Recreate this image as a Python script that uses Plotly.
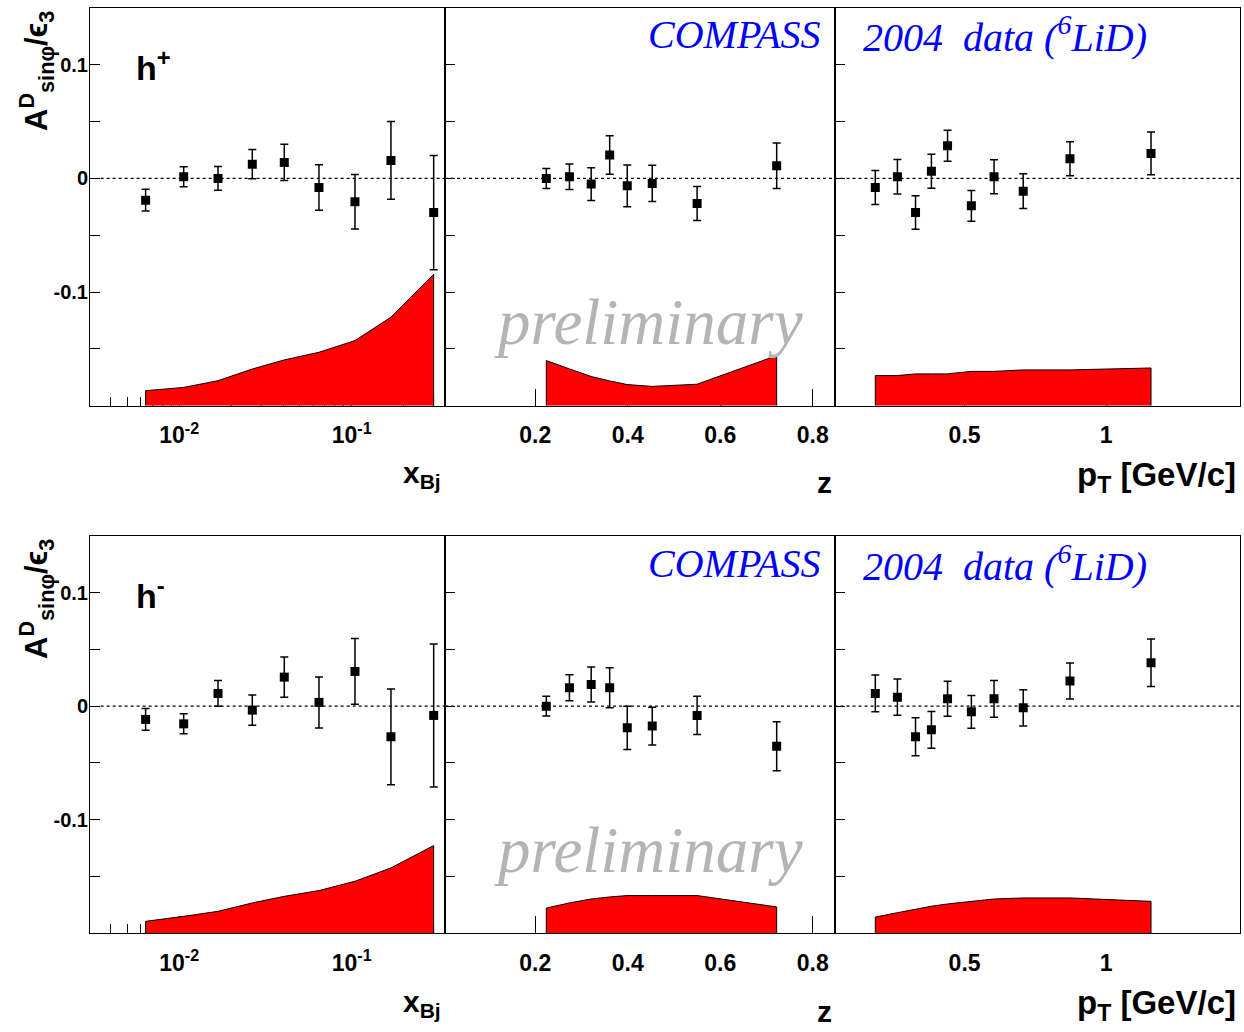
import plotly.graph_objects as go

# ---------------- data ----------------
xbj = [0.00639, 0.01062, 0.01679, 0.02654, 0.04067, 0.06462, 0.1045, 0.1689, 0.2988]
zval = [0.224, 0.274, 0.321, 0.361, 0.399, 0.453, 0.550, 0.722]
ptval = [0.185, 0.263, 0.327, 0.383, 0.440, 0.524, 0.604, 0.707, 0.872, 1.158]

# h+ asymmetries
hp_xbj_A = [-0.0191, 0.0015, 0.0000, 0.0126, 0.0141, -0.0079, -0.0206, 0.0159, -0.0300]
hp_xbj_E = [0.0095, 0.0088, 0.0105, 0.0128, 0.0160, 0.0200, 0.0240, 0.0343, 0.0503]
hp_xbj_S = [0.0132, 0.0161, 0.0220, 0.0323, 0.0403, 0.0470, 0.0573, 0.0779, 0.1156]

hp_z_A = [0.0000, 0.0015, -0.0050, 0.0206, -0.0065, -0.0044, -0.0220, 0.0112]
hp_z_E = [0.0088, 0.0112, 0.0144, 0.0169, 0.0184, 0.0160, 0.0150, 0.0200]
hp_z_S = [0.0397, 0.0324, 0.0257, 0.0218, 0.0186, 0.0170, 0.0189, 0.0441]

hp_pt_A = [-0.0079, 0.0015, -0.0300, 0.0064, 0.0288, -0.0241, 0.0015, -0.0112, 0.0173, 0.0220]
hp_pt_E = [0.0150, 0.0152, 0.0147, 0.0150, 0.0137, 0.0135, 0.0150, 0.0153, 0.0149, 0.0188]
hp_pt_S = [0.0265, 0.0265, 0.0280, 0.0280, 0.0280, 0.0302, 0.0302, 0.0315, 0.0315, 0.0332]

# h- asymmetries
hm_xbj_A = [-0.0117, -0.0156, 0.0112, -0.0035, 0.0256, 0.0033, 0.0306, -0.0270, -0.0082]
hm_xbj_E = [0.0096, 0.0088, 0.0113, 0.0134, 0.0178, 0.0225, 0.0290, 0.0422, 0.0630]
hm_xbj_S = [0.0103, 0.0147, 0.0191, 0.0265, 0.0323, 0.0374, 0.0456, 0.0574, 0.0771]

hm_z_A = [0.0000, 0.0162, 0.0191, 0.0162, -0.0191, -0.0176, -0.0082, -0.0353]
hm_z_E = [0.0088, 0.0115, 0.0154, 0.0176, 0.0191, 0.0166, 0.0169, 0.0216]
hm_z_S = [0.0220, 0.0265, 0.0300, 0.0318, 0.0330, 0.0330, 0.0330, 0.0230]

hm_pt_A = [0.0112, 0.0079, -0.0270, -0.0209, 0.0065, -0.0050, 0.0065, -0.0015, 0.0221, 0.0383]
hm_pt_E = [0.0162, 0.0160, 0.0168, 0.0162, 0.0154, 0.0144, 0.0162, 0.0160, 0.0159, 0.0209]
hm_pt_S = [0.0140, 0.0179, 0.0211, 0.0236, 0.0256, 0.0278, 0.0300, 0.0309, 0.0309, 0.0279]

y_tickvals = [-0.15, -0.1, -0.05, 0, 0.05, 0.1]
y_ticktext = ["", "-0.1", "", "0", "", "0.1"]
band_base = -0.2
y_range = [-0.2, 0.15]

# ---------------- geometry helpers ----------------
W, H = 1244, 1032
def px(x):
    return x / W
def py(y):
    return 1 - y / H

col_px = [(90, 445), (445, 834.5), (834.5, 1240)]
row_px = [(8, 405.7), (536, 933)]
ROW_SHIFT = 528

fig = go.Figure()

panels = [
    (xbj, hp_xbj_A, hp_xbj_E, hp_xbj_S),
    (zval, hp_z_A, hp_z_E, hp_z_S),
    (ptval, hp_pt_A, hp_pt_E, hp_pt_S),
    (xbj, hm_xbj_A, hm_xbj_E, hm_xbj_S),
    (zval, hm_z_A, hm_z_E, hm_z_S),
    (ptval, hm_pt_A, hm_pt_E, hm_pt_S),
]

layout = dict(
    width=W, height=H, margin=dict(l=0, r=0, t=0, b=0),
    paper_bgcolor="white", plot_bgcolor="white", showlegend=False,
    shapes=[], annotations=[],
)

LBL = "Liberation Sans"
SER = "Liberation Serif"

for i, (xs, A, E, S) in enumerate(panels):
    n = i + 1
    xa = "x" if n == 1 else f"x{n}"
    ya = "y" if n == 1 else f"y{n}"
    col = i % 3
    row = i // 3

    # systematic band as closed polygon
    bx = [xs[0]] + list(xs) + [xs[-1]]
    by = [band_base] + [band_base + s for s in S] + [band_base]
    fig.add_trace(go.Scatter(
        x=bx, y=by, xaxis=xa, yaxis=ya, mode="lines", fill="toself",
        fillcolor="#ff0000", line=dict(color="black", width=1),
        hoverinfo="skip"))
    fig.add_trace(go.Scatter(
        x=xs, y=A, xaxis=xa, yaxis=ya, mode="markers",
        marker=dict(symbol="square", size=9, color="black"),
        error_y=dict(type="data", array=E, color="black", thickness=1.5, width=4)))

    xd = [px(col_px[col][0]), px(col_px[col][1])]
    yd = [py(row_px[row][1]), py(row_px[row][0])]

    xaxis = dict(domain=xd, anchor=ya, showline=True, linecolor="black", linewidth=1,
                 mirror=True, ticks="inside", tickcolor="black", ticklen=17,
                 showgrid=False, zeroline=False, layer="below traces",
                 tickfont=dict(family=LBL, size=23, color="black", weight="bold"),
                 ticklabelstandoff=9)
    if col == 0:
        xaxis.update(type="log", range=[-2.517, -0.459],
                     tickvals=[0.01, 0.1], ticktext=["10<sup>-2</sup>", "10<sup>-1</sup>"],
                     minor=dict(tickvals=[0.004, 0.005, 0.006, 0.007, 0.008, 0.009,
                                          0.02, 0.03, 0.04, 0.05, 0.06, 0.07, 0.08, 0.09,
                                          0.2, 0.3],
                                ticks="inside", ticklen=9, tickcolor="black"))
    elif col == 1:
        xaxis.update(range=[0.005, 0.847], tickvals=[0.2, 0.4, 0.6, 0.8],
                     ticktext=["0.2", "0.4", "0.6", "0.8"])
    else:
        xaxis.update(range=[0.041, 1.472], tickvals=[0.5, 1.0], ticktext=["0.5", "1"])

    yaxis = dict(domain=yd, anchor=xa, range=y_range, showline=True, linecolor="black",
                 linewidth=1, mirror=True, ticks="inside", tickcolor="black", ticklen=10,
                 showgrid=False, zeroline=False, tickvals=y_tickvals,
                 ticktext=y_ticktext, showticklabels=(col == 0),
                 tickfont=dict(family=LBL, size=20, color="black", weight="bold"),
                 ticklabelstandoff=-3)

    layout["xaxis" if n == 1 else f"xaxis{n}"] = xaxis
    layout["yaxis" if n == 1 else f"yaxis{n}"] = yaxis

    # dotted zero line
    layout["shapes"].append(dict(type="line", xref=f"{xa} domain", yref=ya,
                                 x0=0.03 if col == 0 else 0.0, x1=1, y0=0, y1=0,
                                 line=dict(color="black", width=1.2, dash="dot")))

# annotations per row
for row in range(2):
    dy = row * ROW_SHIFT
    ann = layout["annotations"]
    ann.append(dict(xref="paper", yref="paper", x=px(823), y=py(35 + dy),
                    xanchor="right", yanchor="middle", showarrow=False,
                    text="<i>COMPASS</i>",
                    font=dict(family=SER, size=40, color="#0000ff")))
    ann.append(dict(xref="paper", yref="paper", x=px(861), y=py(35 + dy),
                    xanchor="left", yanchor="middle", showarrow=False,
                    text="<i>2004  data (<sup>6</sup>LiD)</i>",
                    font=dict(family=SER, size=40, color="#0000ff")))
    ann.append(dict(xref="paper", yref="paper", x=px(649), y=py(322 + dy),
                    xanchor="center", yanchor="middle", showarrow=False,
                    text="<i>preliminary</i>",
                    font=dict(family=SER, size=65, color="#b4b4b4")))
    ann.append(dict(xref="paper", yref="paper", x=px(134), y=py(65 + dy),
                    xanchor="left", yanchor="middle", showarrow=False,
                    text="h<sup>+</sup>" if row == 0 else "h<sup>-</sup>",
                    font=dict(family=LBL, size=34, color="black", weight="bold")))
    ann.append(dict(xref="paper", yref="paper", x=px(36), y=py(71 + dy),
                    xanchor="center", yanchor="middle", showarrow=False, textangle=-90,
                    text="A<sup>D</sup><sub>sin\u03c6</sub>/\u03f5<sub>3</sub>",
                    font=dict(family=LBL, size=31, color="black", weight="bold")))
    ann.append(dict(xref="paper", yref="paper", x=px(443), y=py(475 + dy),
                    xanchor="right", yanchor="middle", showarrow=False,
                    text="x<sub>Bj</sub>",
                    font=dict(family=LBL, size=30, color="black", weight="bold")))
    ann.append(dict(xref="paper", yref="paper", x=px(834), y=py(483 + dy),
                    xanchor="right", yanchor="middle", showarrow=False,
                    text="z",
                    font=dict(family=LBL, size=30, color="black", weight="bold")))
    ann.append(dict(xref="paper", yref="paper", x=px(1238), y=py(477 + dy),
                    xanchor="right", yanchor="middle", showarrow=False,
                    text="p<sub>T</sub> [GeV/c]",
                    font=dict(family=LBL, size=33, color="black", weight="bold")))

fig.update_layout(**layout)
fig.write_html("out.html")
